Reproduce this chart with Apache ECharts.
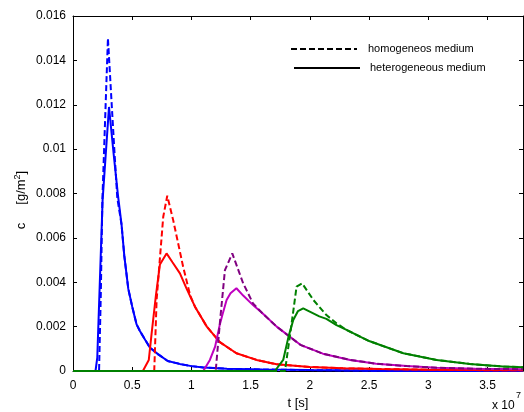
<!DOCTYPE html>
<html><head><meta charset="utf-8">
<script src="https://cdn.jsdelivr.net/npm/echarts@6/dist/echarts.min.js"></script>
<style>html,body{margin:0;padding:0;background:#fff}#c{width:524px;height:412px}</style>
</head><body><div id="c"></div><script>
// time in units of 1e7 s, concentration in g/m^2
const xTickVals = [0, 0.5, 1, 1.5, 2, 2.5, 3, 3.5];
const xTickLabels = ['0', '0.5', '1', '1.5', '2', '2.5', '3', '3.5'];
const yTickVals = [0, 0.002, 0.004, 0.006, 0.008, 0.01, 0.012, 0.014, 0.016];
const yTickLabels = ['0', '0.002', '0.004', '0.006', '0.008', '0.01', '0.012', '0.014', '0.016'];

const blueHetT = [0, 0.19, 0.205, 0.25, 0.304, 0.343, 0.38, 0.41, 0.433, 0.467, 0.5, 0.537, 0.565, 0.61, 0.65, 0.72, 0.8, 0.9, 1.0, 1.1, 1.3, 1.6, 2.0, 2.4, 2.7, 3.8];
const blueHetC = [0, 0, 0.0006, 0.0077, 0.0119, 0.0098, 0.0079, 0.0066, 0.0052, 0.0037, 0.0029, 0.0021, 0.0018, 0.0014, 0.00105, 0.00075, 0.00045, 0.00032, 0.00022, 0.00016, 0.0001, 0.00007, 0.00004, 0.00002, 0, 0];
const blueHomT = [0, 0.22, 0.235, 0.248, 0.275, 0.295, 0.328, 0.351, 0.374, 0.41, 0.433, 0.467, 0.5, 0.537, 0.565, 0.61, 0.65, 0.72, 0.8, 0.9, 1.0, 1.1, 1.3, 1.6, 2.0, 2.4, 2.7, 3.8];
const blueHomC = [0, 0, 0.0035, 0.0077, 0.0119, 0.0150, 0.0119, 0.0098, 0.0078, 0.0066, 0.0052, 0.0037, 0.0029, 0.0021, 0.0018, 0.0014, 0.00105, 0.00075, 0.00045, 0.00032, 0.00022, 0.00016, 0.0001, 0.00007, 0.00004, 0.00002, 0, 0];

const redHetT = [0, 0.59, 0.64, 0.664, 0.70, 0.734, 0.79, 0.84, 0.903, 0.96, 1.03, 1.13, 1.24, 1.38, 1.55, 1.72, 2.0, 2.28, 2.6, 3.0, 3.4, 3.8];
const redHetC = [0, 0, 0.0005, 0.0017, 0.0034, 0.0048, 0.0053, 0.0049, 0.0044, 0.0037, 0.0029, 0.0020, 0.0013, 0.0008, 0.0005, 0.0003, 0.00018, 0.00012, 0.00009, 0.00006, 0.00004, 0.00003];
const redHomT = [0, 0.686, 0.706, 0.726, 0.762, 0.796, 0.846, 0.93, 0.99, 1.03, 1.13, 1.24, 1.38, 1.55, 1.72, 2.0, 2.28, 2.6, 3.0, 3.4, 3.8];
const redHomC = [0, 0, 0.0032, 0.00455, 0.00695, 0.0079, 0.0068, 0.0047, 0.0034, 0.0029, 0.0020, 0.0013, 0.0008, 0.0005, 0.0003, 0.00018, 0.00012, 0.00009, 0.00006, 0.00004, 0.00003];

const purpleHetT = [0, 1.1, 1.156, 1.2, 1.24, 1.26, 1.297, 1.33, 1.38, 1.437, 1.52, 1.6, 1.72, 1.92, 2.11, 2.34, 2.56, 2.82, 3.07, 3.4, 3.8];
const purpleHetC = [0, 0, 0.0005, 0.0011, 0.0021, 0.0025, 0.0032, 0.0035, 0.00373, 0.0034, 0.00297, 0.0026, 0.0020, 0.00118, 0.00078, 0.0005, 0.00033, 0.00022, 0.00015, 0.0001, 0.00008];
const purpleHomT = [0, 1.205, 1.24, 1.283, 1.345, 1.437, 1.52, 1.6, 1.72, 1.92, 2.11, 2.34, 2.56, 2.82, 3.07, 3.4, 3.8];
const purpleHomC = [0, 0, 0.00215, 0.00455, 0.0053, 0.00395, 0.00305, 0.0026, 0.0020, 0.00118, 0.00078, 0.0005, 0.00033, 0.00022, 0.00015, 0.0001, 0.00008];

const greenHetT = [0, 1.705, 1.775, 1.82, 1.86, 1.9, 1.944, 2.08, 2.14, 2.225, 2.31, 2.5, 2.79, 3.07, 3.35, 3.63, 3.8];
const greenHetC = [0, 0, 0.0005, 0.00155, 0.0023, 0.0027, 0.00282, 0.00246, 0.00235, 0.00207, 0.00185, 0.00135, 0.0008, 0.0005, 0.00032, 0.0002, 0.00017];
const greenHomT = [0, 1.79, 1.84, 1.888, 1.935, 2.03, 2.14, 2.225, 2.31, 2.5, 2.79, 3.07, 3.35, 3.63, 3.8];
const greenHomC = [0, 0, 0.0019, 0.0038, 0.00395, 0.0032, 0.00252, 0.00215, 0.00185, 0.00135, 0.0008, 0.0005, 0.00032, 0.0002, 0.00017];

const FONT = 'Liberation Sans, Arial, sans-serif';
const zip = (t, c) => t.map((v, i) => [v, c[i]]);
const lookup = (vals, labels) => v => { const i = vals.findIndex(t => Math.abs(t - v) < 1e-9); return i >= 0 ? labels[i] : ''; };

function line(name, t, c, color, dashed, z) {
  return {
    name, type: 'line', data: zip(t, c), showSymbol: false, symbol: 'none', z: z,
    lineStyle: { color, width: 2, type: dashed ? [6, 3] : 'solid' },
    xAxisIndex: 0, yAxisIndex: 0, animation: false, silent: true
  };
}

const axisLine = { show: true, onZero: false, lineStyle: { color: '#000', width: 1 } };
const chart = echarts.init(document.getElementById('c'), null, { renderer: 'canvas' });
chart.setOption({
  animation: false,
  backgroundColor: '#fff',
  grid: { left: 73, right: 1, top: 16, bottom: 41, containLabel: false, outerBoundsMode: 'none' },
  xAxis: [
    { type: 'value', min: 0, max: 3.8, interval: 0.5, position: 'bottom',
      axisLine, splitLine: { show: false },
      axisTick: { show: true, inside: true, length: 4, lineStyle: { color: '#000' } },
      axisLabel: { color: '#000', fontSize: 12, fontFamily: FONT, margin: 9, formatter: lookup(xTickVals, xTickLabels) },
      name: 't [s]', nameLocation: 'middle', nameGap: 25,
      nameTextStyle: { color: '#000', fontSize: 13, fontFamily: FONT } },
    { type: 'value', min: 0, max: 3.8, interval: 0.5, position: 'top',
      axisLine, splitLine: { show: false },
      axisTick: { show: true, inside: true, length: 4, lineStyle: { color: '#000' } },
      axisLabel: { show: false } }
  ],
  yAxis: [
    { type: 'value', min: 0, max: 0.016, interval: 0.002, position: 'left',
      axisLine, splitLine: { show: false },
      axisTick: { show: true, inside: true, length: 4, lineStyle: { color: '#000' } },
      axisLabel: { color: '#000', fontSize: 12, fontFamily: FONT, margin: 7, formatter: lookup(yTickVals, yTickLabels) } },
    { type: 'value', min: 0, max: 0.016, interval: 0.002, position: 'right',
      axisLine, splitLine: { show: false },
      axisTick: { show: true, inside: true, length: 4, lineStyle: { color: '#000' } },
      axisLabel: { show: false } }
  ],
  series: [
    line('blue heterogeneous', blueHetT, blueHetC, '#0000ff', false, 2),
    line('blue homogeneous', blueHomT, blueHomC, '#0000ff', true, 3),
    line('red heterogeneous', redHetT, redHetC, '#ff0000', false, 4),
    line('red homogeneous', redHomT, redHomC, '#ff0000', true, 5),
    line('purple heterogeneous', purpleHetT, purpleHetC, '#bf00bf', false, 6),
    line('purple homogeneous', purpleHomT, purpleHomC, '#800080', true, 7),
    line('green heterogeneous', greenHetT, greenHetC, '#008000', false, 8),
    line('green homogeneous', greenHomT, greenHomC, '#008000', true, 9)
  ],
  graphic: [
    { type: 'text', x: 21, y: 200, rotation: Math.PI / 2, z: 20,
      style: { text: '{a|c     [g/m}{s|2}{a|]}', align: 'center', verticalAlign: 'middle',
        rich: { a: { fontSize: 13, fontFamily: FONT, fill: '#000' }, s: { fontSize: 9, fontFamily: FONT, fill: '#000', verticalAlign: 'top', padding: [0, 0, 7, 0] } } } },
    { type: 'line', shape: { x1: 291, y1: 49, x2: 357, y2: 49 }, style: { stroke: '#000', lineWidth: 2, lineDash: [6, 3] }, z: 20 },
    { type: 'text', left: 368, top: 43, style: { text: 'homogeneos medium', fill: '#000', font: '11px ' + FONT }, z: 20 },
    { type: 'line', shape: { x1: 294, y1: 68, x2: 360, y2: 68 }, style: { stroke: '#000', lineWidth: 2 }, z: 20 },
    { type: 'text', left: 370, top: 62, style: { text: 'heterogeneous medium', fill: '#000', font: '11px ' + FONT }, z: 20 },
    { type: 'text', left: 492, top: 400, style: { text: 'x 10', fill: '#000', font: '12px ' + FONT }, z: 20 },
    { type: 'text', left: 516, top: 391, style: { text: '7', fill: '#000', font: '9px ' + FONT }, z: 20 }
  ]
});
</script></body></html>
